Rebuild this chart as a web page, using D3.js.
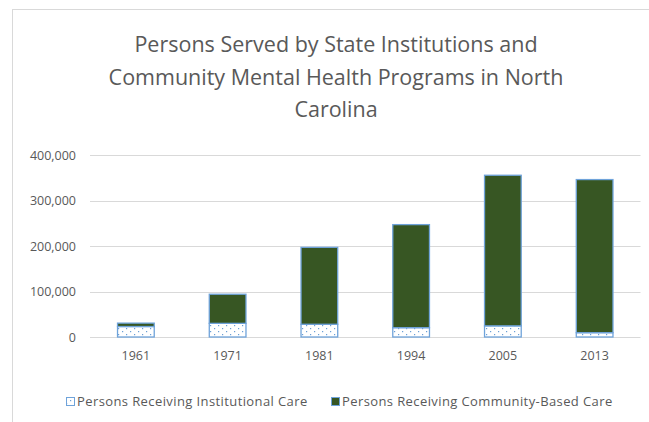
<!DOCTYPE html>
<html><head><meta charset="utf-8">
<script src="https://cdn.jsdelivr.net/npm/d3@7"></script>
<style>
body{margin:0;background:#fff;}
svg{display:block;}
text{font-family:"Open Sans",sans-serif;}
</style></head>
<body>
<svg id="chart" width="649" height="422"></svg>
<script>
const years = ["1961","1971","1981","1994","2005","2013"];
const institutional = [23000, 30000, 28000, 20500, 24500, 9500];
const community = [7500, 64000, 169000, 226500, 331000, 336500];
const seriesNames = ["Persons Receiving Institutional Care","Persons Receiving Community-Based Care"];
const yTicks = [0, 100000, 200000, 300000, 400000];
const titleLines = ["Persons Served by State Institutions and","Community Mental Health Programs in North","Carolina"];

const svg = d3.select("#chart");
const W = 649, H = 422;
const m = {left: 90, right: 8, top: 155, bottom: 85};

// pattern
const defs = svg.append("defs");
const pat = defs.append("pattern").attr("id","dots").attr("patternUnits","userSpaceOnUse")
  .attr("width",8).attr("height",6);
pat.append("rect").attr("width",8).attr("height",6).attr("fill","#fff");
pat.append("rect").attr("x",2).attr("y",1).attr("width",1.2).attr("height",1.2).attr("fill","#6a9fd6");
pat.append("rect").attr("x",6).attr("y",4).attr("width",1.2).attr("height",1.2).attr("fill","#6a9fd6");

// frame
svg.append("rect").attr("x",12.5).attr("y",9.5).attr("width",W).attr("height",H).attr("fill","none").attr("stroke","#d9d9d9");

const x = d3.scaleBand().domain(years).range([m.left, 640.5]).paddingInner(0.6).paddingOuter(0.3);
const y = d3.scaleLinear().domain([0,400000]).range([337, 155]);

// gridlines
svg.append("g").selectAll("line").data(yTicks).join("line")
  .attr("x1",m.left).attr("x2",640.5)
  .attr("y1",d=>Math.round(y(d))+0.5).attr("y2",d=>Math.round(y(d))+0.5)
  .attr("stroke","#d9d9d9").attr("stroke-width",1);

// y axis labels
const yAxis = d3.axisLeft(y).tickValues(yTicks).tickSize(0).tickPadding(0)
  .tickFormat(d3.format(","));
const ya = svg.append("g").attr("transform","translate(76,0)").call(yAxis);
ya.select(".domain").remove();
ya.selectAll("text").attr("fill","#595959").style("font-size","12.5px");

// x axis labels
const xAxis = d3.axisBottom(x).tickSize(0).tickPadding(0);
const xa = svg.append("g").attr("transform","translate(0,351)").call(xAxis);
xa.select(".domain").remove();
xa.selectAll("text").attr("fill","#595959").style("font-size","12.5px").attr("dy","0.71em");

// bars
const data = years.map((yr,i)=>({yr, inst:institutional[i], comm:community[i]}));
const g = svg.append("g");
g.selectAll(".inst").data(data).join("rect").attr("class","inst")
  .attr("x",d=>x(d.yr)).attr("width",x.bandwidth())
  .attr("y",d=>y(d.inst)).attr("height",d=>y(0)-y(d.inst))
  .attr("fill","url(#dots)").attr("stroke","#6fa3da").attr("stroke-width",1.3);
g.selectAll(".comm").data(data).join("rect").attr("class","comm")
  .attr("x",d=>x(d.yr)).attr("width",x.bandwidth())
  .attr("y",d=>y(d.inst+d.comm)).attr("height",d=>y(d.inst)-y(d.inst+d.comm))
  .attr("fill","#375623").attr("stroke","#6fa3da").attr("stroke-width",1.3);

// title
svg.append("g").selectAll("text").data(titleLines).join("text")
  .attr("x",336).attr("y",(d,i)=>52+i*32.5).attr("text-anchor","middle")
  .attr("fill","#595959").style("font-size","21.5px").text(d=>d);

// legend
const leg = svg.append("g");
const legX = [66, 331];
seriesNames.forEach((name,i)=>{
  leg.append("rect").attr("x",legX[i]+0.5).attr("y",397.5).attr("width",8).attr("height",8)
    .attr("fill", i===0 ? "url(#dots)" : "#375623").attr("stroke","#6fa3da");
  leg.append("text").attr("x",legX[i]+11).attr("y",406).attr("fill","#595959")
    .style("font-size","13px").style("letter-spacing","0.4px").text(name);
});
</script>
</body></html>
